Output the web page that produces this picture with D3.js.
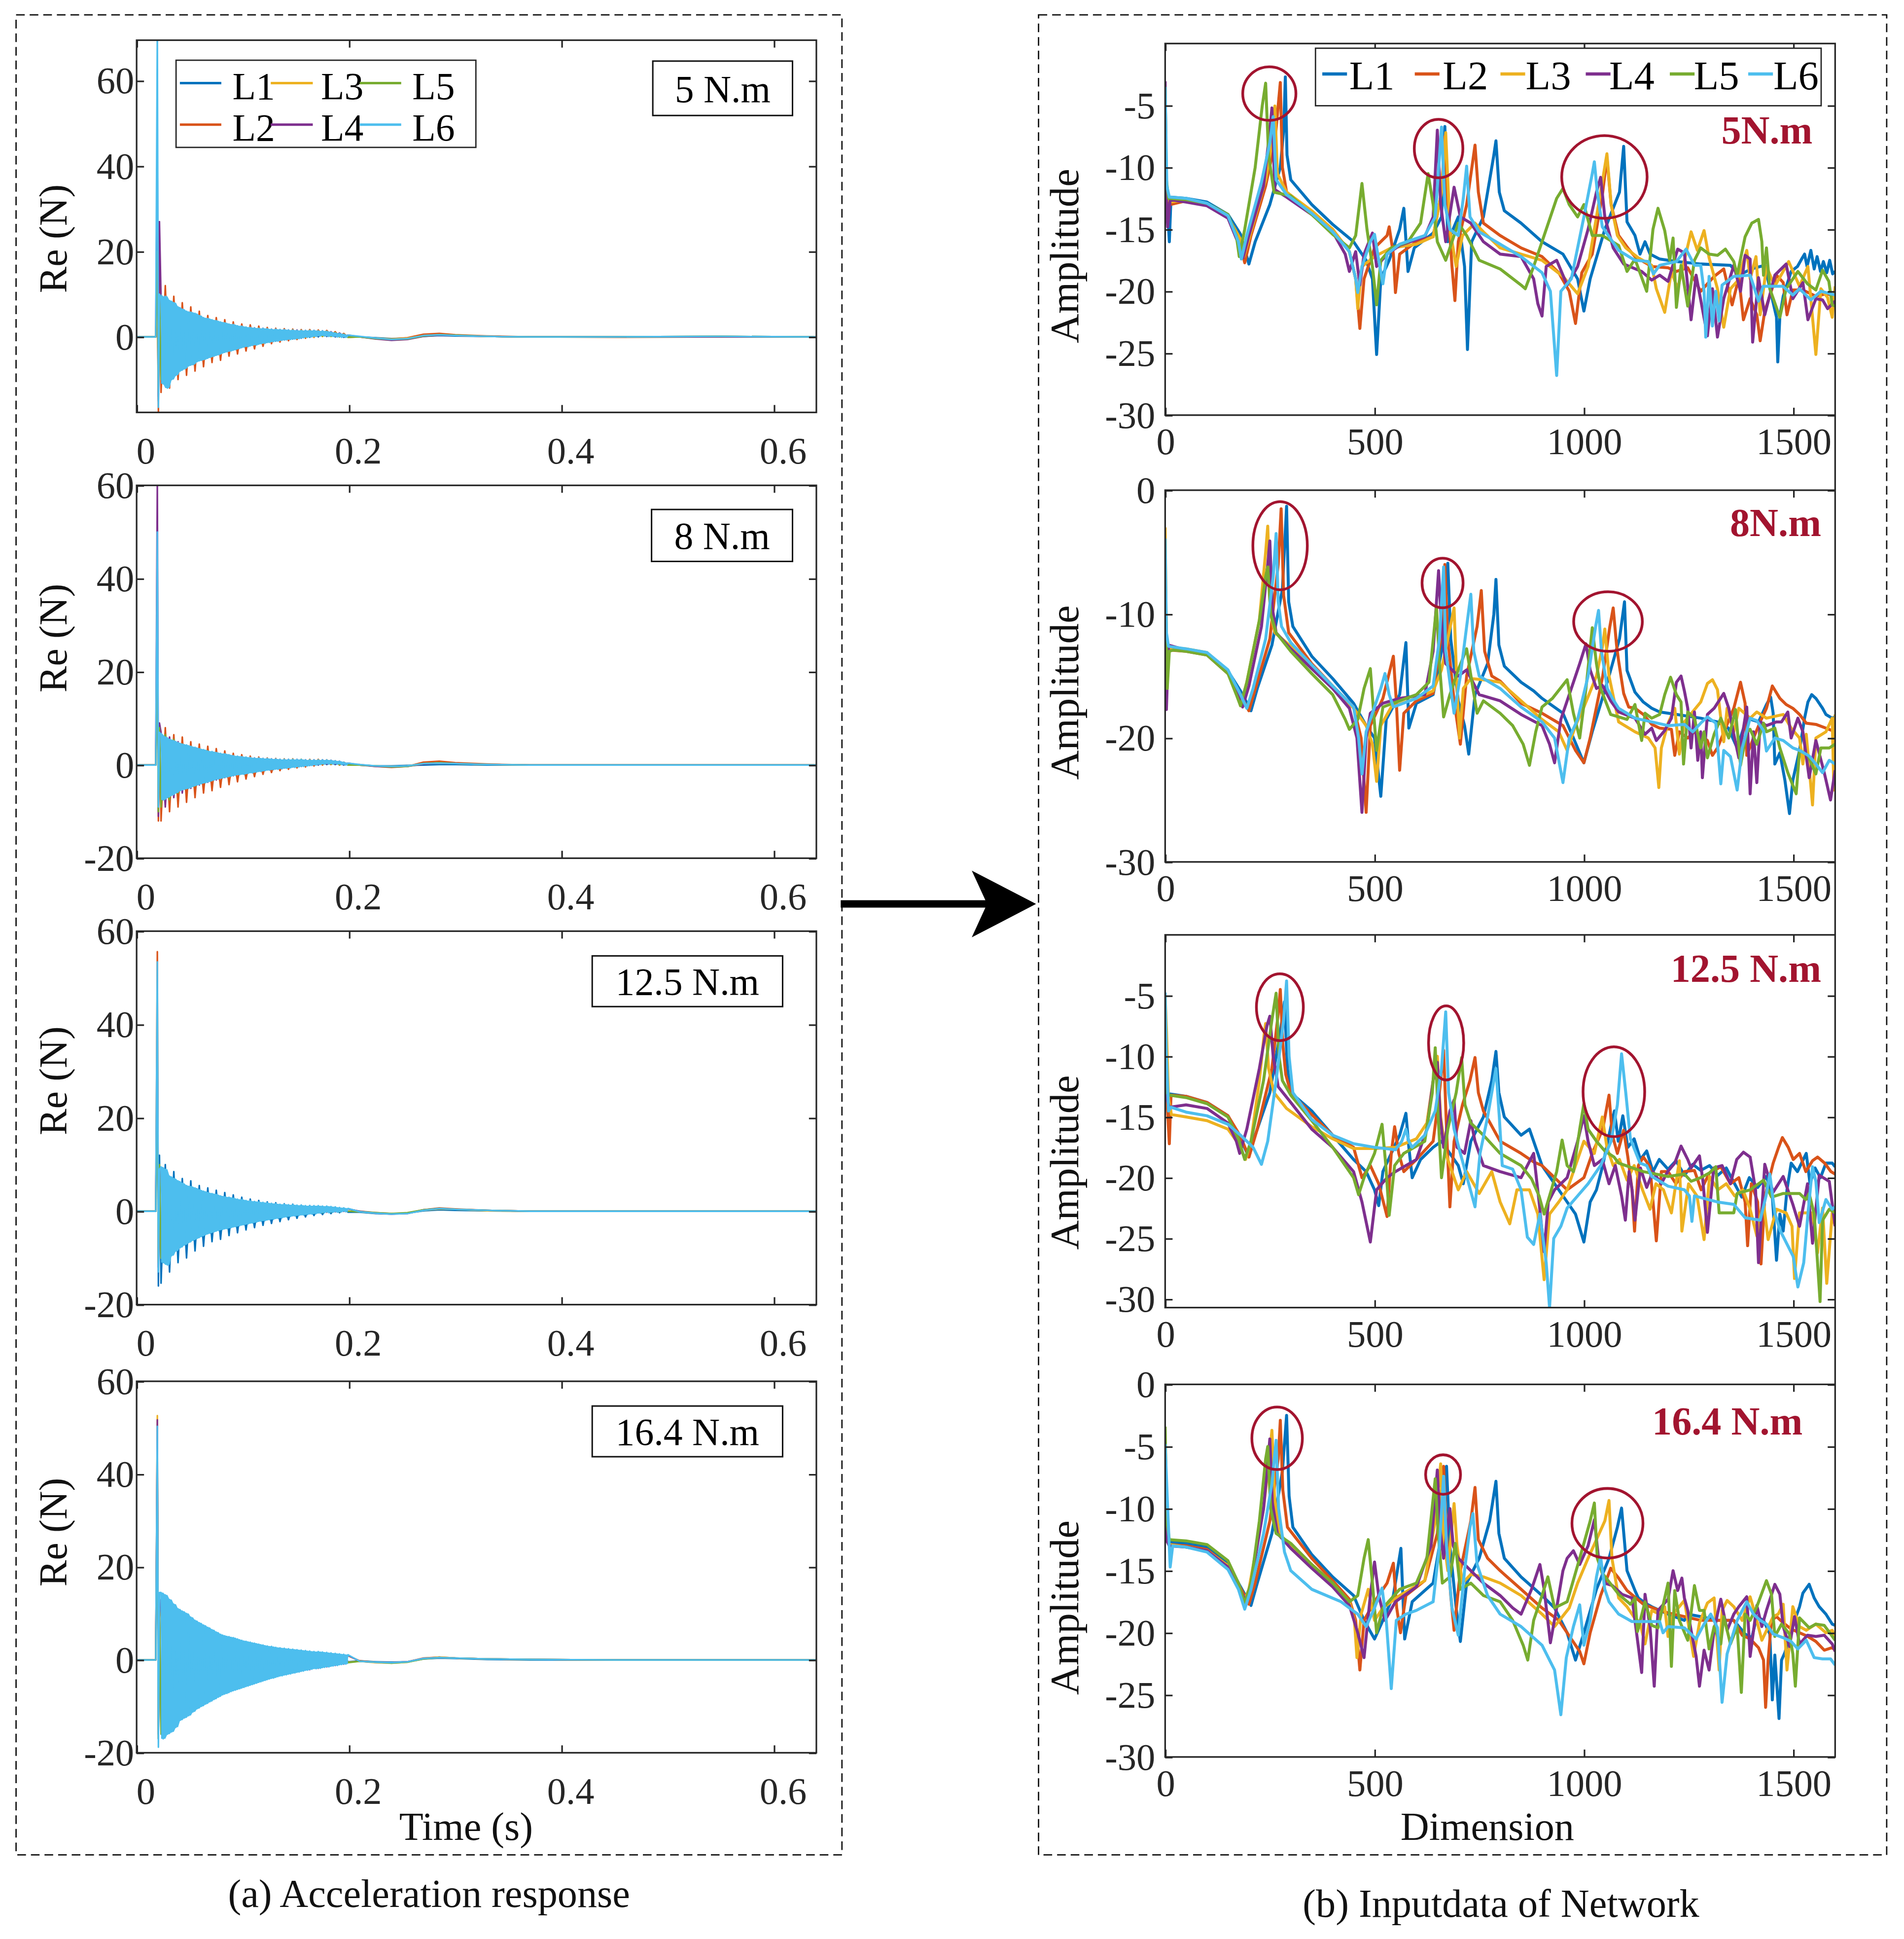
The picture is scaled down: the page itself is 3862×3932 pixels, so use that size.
<!DOCTYPE html>
<html>
<head>
<meta charset="utf-8" />
<title>Acceleration response and network input</title>
<script src="https://d3js.org/d3.v7.min.js"></script>
<style>
  body { margin: 0; background: #fff; }
  svg { display: block; }
</style>
</head>
<body>
<svg id="fig"></svg>
<script>
// ---------- categories, labels, ticks ----------
const seriesNames = ['L1', 'L2', 'L3', 'L4', 'L5', 'L6'];
const seriesColors = ['#0072BD', '#D95319', '#EDB120', '#7E2F8E', '#77AC30', '#4DBEEE'];
const boxLabels = ['5 N.m', '8 N.m', '12.5 N.m', '16.4 N.m'];
const specLabels = ['5N.m', '8N.m', '12.5 N.m', '16.4 N.m'];
const timeDomain = [0, 0.64];
const dimDomain = [0, 1600];
const timeTicks = [0, 0.2, 0.4, 0.6];
const dimTicks = [0, 500, 1000, 1500];
const reDomains = [[-17.7, 69.5], [-20, 60], [-20, 60], [-20, 60]];
const reTicks = [[0, 20, 40, 60], [-20, 0, 20, 40, 60], [-20, 0, 20, 40, 60], [-20, 0, 20, 40, 60]];
const ampDomains = [[-30, 0], [-30, 0], [-30.7, 0], [-30, 0]];
const ampTicks = [[-30, -25, -20, -15, -10, -5], [-30, -20, -10, 0], [-30, -25, -20, -15, -10, -5], [-30, -25, -20, -15, -10, -5, 0]];

// ---------- time response (a): sample times, then peaks/troughs read per line ----------
// L1-L5 are read at these times
const timeGrid = [0, 0.018, 0.0195, 0.0205, 0.0215,
  0.023, 0.027, 0.031, 0.035, 0.039, 0.043, 0.047, 0.051, 0.055, 0.059,
  0.063, 0.067, 0.071, 0.075, 0.079, 0.083, 0.087, 0.091, 0.095, 0.099,
  0.103, 0.107, 0.111, 0.115, 0.119, 0.123, 0.127, 0.131, 0.135, 0.139,
  0.143, 0.147, 0.151, 0.155, 0.159, 0.163, 0.167, 0.171, 0.175, 0.179,
  0.183, 0.187, 0.191, 0.195, 0.199,
  0.21, 0.225, 0.24, 0.255, 0.27, 0.285, 0.3, 0.33, 0.37, 0.45, 0.55, 0.64];
// L6 (drawn on top, it forms the visible band) is read more finely
const fineGrid = [0, 0.018, 0.0195, 0.0205, 0.0215,
  0.023, 0.025, 0.027, 0.029, 0.031, 0.033, 0.035, 0.037, 0.039, 0.041,
  0.043, 0.045, 0.047, 0.049, 0.051, 0.053, 0.055, 0.057, 0.059, 0.061,
  0.063, 0.065, 0.067, 0.069, 0.071, 0.073, 0.075, 0.077, 0.079, 0.081,
  0.083, 0.085, 0.087, 0.089, 0.091, 0.093, 0.095, 0.097, 0.099, 0.101,
  0.103, 0.105, 0.107, 0.109, 0.111, 0.113, 0.115, 0.117, 0.119, 0.121,
  0.123, 0.125, 0.127, 0.129, 0.131, 0.133, 0.135, 0.137, 0.139, 0.141,
  0.143, 0.145, 0.147, 0.149, 0.151, 0.153, 0.155, 0.157, 0.159, 0.161,
  0.163, 0.165, 0.167, 0.169, 0.171, 0.173, 0.175, 0.177, 0.179, 0.181,
  0.183, 0.185, 0.187, 0.189, 0.191, 0.193, 0.195, 0.197, 0.199,
  0.21, 0.225, 0.24, 0.255, 0.27, 0.285, 0.3, 0.33, 0.37, 0.45, 0.55, 0.64];
const bandSpan = [0.023, 0.199];

// 5 N.m
const re5_L1 = [0, 0, 12, -15, 8,
  8, -10, 7, -8, 6, -6.5, 5.5, -5.5, 5, -5,
  4, -4.5, 3.5, -4, 3, -3.4, 2.8, -2.9, 2.4, -2.3,
  2.1, -2, 2, -1.6, 1.8, -1.2, 1.7, -1, 1.6, -0.7,
  1.5, -0.5, 1.4, -0.3, 1.4, -0.1, 1.3, 0, 1.2, 0.1,
  1, 0, 0.7, -0.1, 0.3,
  0, -0.2, -0.4, -0.3, 0.1, 0.3, 0.2, 0.1, 0, 0, 0.1, 0];
const re5_L2 = [0, 0, 14, -17.7, 12.5,
  -13, 12, -12, 9.5, -10, 8, -9, 7, -8, 6,
  -7, 5, -6, 4.5, -5.5, 4, -4.5, 3.5, -4, 3,
  -3.3, 2.8, -2.8, 2.5, -2.2, 2.2, -1.6, 2, -1.2, 1.9,
  -0.9, 1.8, -0.6, 1.7, -0.3, 1.7, -0.1, 1.6, 0.1, 1.5,
  0.2, 1.2, 0, 0.8, -0.1,
  0, -0.4, -0.5, -0.2, 0.6, 0.8, 0.5, 0.2, 0, -0.1, 0, 0];
const re5_L3 = [0, 0, 10, -12, 9,
  -9, 8, -8, 7, -7, 6, -6, 5, -5, 4.5,
  -4.5, 4, -4, 3.5, -3.5, 3, -3, 2.6, -2.5, 2.4,
  -2.1, 2.1, -1.8, 2, -1.5, 1.8, -1.1, 1.7, -0.8, 1.6,
  -0.5, 1.5, -0.3, 1.5, -0.1, 1.5, 0, 1.4, 0.1, 1.3,
  0.1, 1, 0, 0.6, -0.1,
  0, -0.3, -0.5, -0.3, 0.3, 0.5, 0.3, 0.1, 0, 0, 0.1, 0];
const re5_L4 = [0, 0, 45, -14, 27,
  9, -10, 7.5, -8, 6.5, -6.5, 5.5, -5.5, 4.5, -5,
  4, -4.3, 3.5, -3.8, 3, -3.2, 2.6, -2.7, 2.4, -2.2,
  2.2, -1.8, 2.1, -1.4, 2, -1, 1.8, -0.8, 1.7, -0.5,
  1.6, -0.3, 1.6, -0.1, 1.5, 0.1, 1.5, 0.2, 1.4, 0.2,
  1.2, 0.1, 0.9, 0, 0.4,
  0, -0.5, -0.8, -0.6, 0.1, 0.4, 0.3, 0.1, 0, 0, 0, 0];
const re5_L5 = [0, 0, 20, -13, 10,
  -10, 8, -8.5, 7, -7, 6, -6, 5, -5, 4.5,
  -4.5, 4, -4, 3.5, -3.4, 3, -2.9, 2.6, -2.4, 2.3,
  -2, 2.1, -1.7, 2, -1.3, 1.8, -1, 1.7, -0.7, 1.6,
  -0.5, 1.6, -0.3, 1.5, -0.1, 1.5, 0.1, 1.4, 0.2, 1.3,
  0.1, 1, 0, 0.6, -0.1,
  0, -0.4, -0.6, -0.5, 0.2, 0.5, 0.4, 0.1, 0, 0, 0.1, 0];
const re5_L6 = [0, 0, 72, -16.5, 10,
  9, -11, 9.5, -12, 8.5, -10, 8, -9, 7, -8,
  6.5, -7.5, 6, -6.8, 5.8, -6.5, 5.5, -5.8, 5, -5.5,
  4.5, -5.2, 4.3, -4.8, 4, -4.5, 3.8, -4.2, 3.5, -3.8,
  3.3, -3.5, 3, -3.3, 2.9, -3, 2.6, -2.7, 2.5, -2.4,
  2.3, -2.3, 2.2, -2, 2.1, -1.9, 2, -1.6, 2, -1.5,
  1.9, -1.3, 1.8, -1.1, 1.8, -1, 1.7, -0.8, 1.7, -0.7,
  1.6, -0.6, 1.6, -0.5, 1.5, -0.4, 1.5, -0.2, 1.5, -0.1,
  1.5, 0, 1.5, 0.1, 1.4, 0.2, 1.4, 0.2, 1.3, 0.1,
  1.1, 0.1, 0.9, 0, 0.8, -0.1, 0.6, -0.1, 0.4,
  0.1, -0.3, -0.6, -0.4, 0.3, 0.5, 0.3, 0.1, 0, 0, 0.1, 0];

// 8 N.m
const re8_L1 = [0, 0, 30, -10, 6,
  6, -8, 5, -6.5, 4.5, -5.5, 3.8, -4.5, 3.3, -4,
  2.8, -3.4, 2.5, -3, 2.2, -2.6, 1.9, -2.2, 1.7, -1.9,
  1.5, -1.6, 1.4, -1.3, 1.3, -1, 1.2, -0.8, 1.1, -0.6,
  1.1, -0.4, 1, -0.3, 1, -0.1, 1, 0, 0.9, 0.1,
  0.8, 0.1, 0.6, 0, 0.3,
  0, -0.2, -0.2, -0.1, 0, 0.1, 0.1, 0, 0, 0, 0, 0];
const re8_L2 = [0, 0, 25, -12, 8,
  -12, 8, -10, 6.5, -9, 6, -8, 5, -7, 4.5,
  -6, 4, -5.5, 3.5, -4.8, 3, -4.2, 2.5, -3.6, 2.2,
  -3, 1.9, -2.5, 1.7, -2, 1.5, -1.6, 1.4, -1.2, 1.3,
  -0.9, 1.3, -0.6, 1.2, -0.4, 1.2, -0.2, 1.2, 0, 1.1,
  0.1, 0.9, 0, 0.6, 0,
  0.1, -0.3, -0.5, -0.3, 0.6, 0.8, 0.5, 0.2, 0, 0, 0, 0];
const re8_L3 = [0, 0, 35, -9, 7,
  -8, 6, -6.5, 5, -5.5, 4.3, -4.8, 3.8, -4.2, 3.3,
  -3.6, 2.9, -3.1, 2.5, -2.6, 2.2, -2.2, 1.9, -1.9, 1.7,
  -1.6, 1.5, -1.3, 1.4, -1, 1.3, -0.8, 1.2, -0.6, 1.1,
  -0.4, 1.1, -0.2, 1.1, 0, 1, 0.1, 1, 0.2, 0.9,
  0.2, 0.8, 0.1, 0.5, 0,
  0, -0.2, -0.3, -0.2, 0.3, 0.4, 0.3, 0.1, 0, 0, 0, 0];
const re8_L4 = [0, 0, 61, -11, 9,
  7, -9, 6, -7, 5, -6, 4.2, -5, 3.6, -4.3,
  3.1, -3.7, 2.7, -3.2, 2.4, -2.7, 2.1, -2.3, 1.8, -1.9,
  1.6, -1.6, 1.5, -1.3, 1.4, -1, 1.3, -0.8, 1.2, -0.6,
  1.2, -0.4, 1.2, -0.2, 1.1, 0, 1.1, 0.1, 1.1, 0.2,
  1, 0.2, 0.8, 0.1, 0.4,
  0, -0.3, -0.4, -0.3, 0.2, 0.4, 0.3, 0.1, 0, 0, 0, 0];
const re8_L5 = [0, 0, 20, -10, 8,
  -9, 6.5, -7.5, 5.5, -6, 4.5, -5, 4, -4.5, 3.4,
  -3.8, 3, -3.2, 2.6, -2.7, 2.2, -2.3, 1.9, -1.9, 1.7,
  -1.6, 1.5, -1.3, 1.4, -1, 1.3, -0.8, 1.2, -0.6, 1.2,
  -0.4, 1.2, -0.2, 1.2, 0, 1.1, 0.1, 1.1, 0.2, 1,
  0.2, 0.8, 0.1, 0.5, 0,
  0, -0.2, -0.4, -0.3, 0.3, 0.5, 0.3, 0.1, 0, 0, 0, 0];
const re8_L6 = [0, 0, 50, -9, 7,
  6.5, -7.5, 6, -7, 5.5, -6.5, 5.2, -6, 4.8, -5.5,
  4.5, -5.2, 4.3, -5, 4, -4.6, 3.8, -4.3, 3.5, -4,
  3.3, -3.8, 3, -3.5, 2.9, -3.2, 2.7, -3, 2.5, -2.8,
  2.4, -2.6, 2.2, -2.4, 2, -2.2, 1.9, -2.1, 1.8, -2,
  1.7, -1.8, 1.6, -1.7, 1.5, -1.5, 1.5, -1.4, 1.4, -1.2,
  1.4, -1.1, 1.3, -1, 1.3, -0.9, 1.2, -0.8, 1.2, -0.7,
  1.2, -0.6, 1.2, -0.5, 1.2, -0.4, 1.2, -0.3, 1.1, -0.2,
  1.1, -0.1, 1.1, 0, 1.1, 0.1, 1.1, 0.2, 1.1, 0.2,
  1, 0.2, 0.9, 0.2, 0.8, 0.1, 0.6, 0, 0.4,
  0.1, -0.2, -0.3, -0.2, 0.3, 0.4, 0.3, 0.1, 0, 0, 0, 0];

// 12.5 N.m
const re125_L1 = [0, 0, 40, -16, 12,
  -15.4, 10, -13, 8.5, -11, 7, -10, 6.5, -8.5, 5.5,
  -7.5, 5, -6.5, 4.5, -6, 4, -5.2, 3.5, -4.6, 3,
  -4, 2.6, -3.5, 2.3, -3, 2, -2.6, 1.8, -2.2, 1.6,
  -1.8, 1.5, -1.5, 1.3, -1.2, 1.2, -0.9, 1.1, -0.7, 1,
  -0.5, 0.9, -0.3, 0.7, -0.2,
  -0.2, -0.5, -0.6, -0.4, 0.1, 0.3, 0.2, 0.1, 0, 0, 0, 0];
const re125_L2 = [0, 0, 55.6, -10, 8,
  8, -9, 6.5, -8, 5.5, -6.5, 4.8, -5.5, 4.2, -5,
  3.7, -4.3, 3.3, -3.8, 2.9, -3.3, 2.6, -2.9, 2.3, -2.5,
  2, -2.1, 1.8, -1.8, 1.6, -1.5, 1.5, -1.2, 1.4, -1,
  1.3, -0.8, 1.2, -0.6, 1.1, -0.4, 1.1, -0.3, 1, -0.2,
  0.9, -0.1, 0.7, 0, 0.5,
  0, -0.3, -0.5, -0.4, 0.3, 0.7, 0.5, 0.2, 0, 0, 0, 0];
const re125_L3 = [0, 0, 30, -11, 7,
  -10, 7.5, -8.5, 6.5, -7, 5.5, -6, 4.8, -5.2, 4.3,
  -4.6, 3.8, -4, 3.3, -3.5, 2.9, -3.1, 2.6, -2.7, 2.3,
  -2.3, 2, -2, 1.8, -1.7, 1.6, -1.4, 1.5, -1.1, 1.4,
  -0.9, 1.3, -0.7, 1.2, -0.5, 1.1, -0.3, 1.1, -0.2, 1,
  -0.1, 0.8, 0, 0.6, 0,
  -0.1, -0.4, -0.5, -0.4, 0.2, 0.5, 0.4, 0.1, 0, 0, 0, 0];
const re125_L4 = [0, 0, 35, -12, 9,
  7.5, -10, 6.5, -8.5, 5.5, -7, 5, -6, 4.3, -5.2,
  3.8, -4.6, 3.4, -4, 3, -3.5, 2.7, -3.1, 2.4, -2.7,
  2.1, -2.3, 1.9, -2, 1.7, -1.7, 1.5, -1.4, 1.4, -1.1,
  1.3, -0.9, 1.2, -0.7, 1.1, -0.5, 1.1, -0.3, 1, -0.2,
  0.9, -0.1, 0.7, 0, 0.5,
  0, -0.4, -0.6, -0.5, 0.3, 0.6, 0.4, 0.2, 0, 0, 0, 0];
const re125_L5 = [0, 0, 25, -11, 10,
  -10, 8, -8.5, 6.5, -7, 5.5, -6.2, 5, -5.4, 4.4,
  -4.8, 3.9, -4.2, 3.4, -3.6, 3, -3.2, 2.6, -2.8, 2.3,
  -2.4, 2, -2.1, 1.8, -1.8, 1.6, -1.5, 1.5, -1.2, 1.4,
  -1, 1.3, -0.8, 1.2, -0.6, 1.1, -0.4, 1.1, -0.3, 1,
  -0.2, 0.8, -0.1, 0.6, 0,
  -0.1, -0.3, -0.5, -0.3, 0.3, 0.6, 0.4, 0.2, 0, 0, 0, 0];
const re125_L6 = [0, 0, 53.4, -13, 9,
  9.5, -11, 9, -11.5, 7.5, -9.5, 7, -8.5, 6.5, -7.8,
  6, -7.2, 5.5, -6.7, 5.3, -6.2, 5, -5.8, 4.6, -5.4,
  4.3, -5, 4, -4.7, 3.8, -4.4, 3.6, -4.1, 3.3, -3.9,
  3.1, -3.7, 3, -3.5, 2.8, -3.3, 2.6, -3.1, 2.5, -2.9,
  2.3, -2.7, 2.2, -2.5, 2.1, -2.3, 2, -2.1, 1.9, -2,
  1.8, -1.8, 1.7, -1.7, 1.6, -1.5, 1.5, -1.4, 1.5, -1.2,
  1.4, -1.1, 1.4, -1, 1.3, -0.9, 1.3, -0.8, 1.2, -0.7,
  1.2, -0.6, 1.2, -0.5, 1.2, -0.4, 1.1, -0.3, 1.1, -0.3,
  1, -0.2, 0.9, -0.2, 0.8, -0.1, 0.7, -0.1, 0.6,
  -0.1, -0.4, -0.6, -0.5, 0.2, 0.6, 0.4, 0.2, 0, 0, 0, 0];

// 16.4 N.m
const re164_L1 = [0, 0, 45, -14, 11,
  -14, 12, -13, 10, -11, 8.5, -10, 7.5, -9, 6.5,
  -8, 5.5, -7, 5, -6.2, 4.4, -5.5, 4, -5, 3.5,
  -4.5, 3.2, -4, 2.8, -3.5, 2.5, -3.1, 2.3, -2.7, 2.1,
  -2.4, 1.9, -2, 1.7, -1.7, 1.6, -1.4, 1.4, -1.1, 1.3,
  -0.9, 1.1, -0.7, 0.9, -0.4,
  -0.2, -0.4, -0.5, -0.4, 0.2, 0.4, 0.3, 0.1, 0, 0, 0, 0];
const re164_L2 = [0, 0, 48, -17, 9,
  12, -15, 11, -13, 9.5, -11, 8.5, -10, 7.5, -9,
  6.5, -8, 5.8, -7.2, 5, -6.5, 4.5, -5.8, 4, -5.2,
  3.6, -4.7, 3.2, -4.2, 2.9, -3.7, 2.6, -3.3, 2.4, -2.9,
  2.2, -2.6, 2, -2.3, 1.8, -2, 1.6, -1.7, 1.5, -1.4,
  1.3, -1.1, 1.1, -0.8, 0.9,
  -0.2, -0.5, -0.6, -0.4, 0.4, 0.6, 0.4, 0.2, 0.1, 0, 0, 0];
const re164_L3 = [0, 0, 52.6, -15, 12,
  -15, 12, -13, 10.5, -11.5, 9, -10, 8, -9, 7,
  -8, 6, -7, 5.2, -6.4, 4.6, -5.7, 4.1, -5, 3.6,
  -4.5, 3.3, -4, 2.9, -3.6, 2.6, -3.2, 2.4, -2.8, 2.2,
  -2.4, 2, -2.1, 1.8, -1.8, 1.6, -1.5, 1.5, -1.2, 1.3,
  -1, 1.1, -0.7, 0.9, -0.5,
  -0.3, -0.6, -0.7, -0.5, 0.3, 0.6, 0.4, 0.2, 0.1, 0, 0, 0];
const re164_L4 = [0, 0, 51.7, -16, 10,
  13, -15, 11.5, -13.5, 10, -12, 9, -10.5, 8, -9.5,
  7, -8.5, 6, -7.7, 5.3, -6.9, 4.7, -6.2, 4.2, -5.6,
  3.8, -5, 3.4, -4.5, 3, -4, 2.7, -3.5, 2.5, -3.1,
  2.3, -2.8, 2.1, -2.4, 1.9, -2.1, 1.7, -1.8, 1.6, -1.5,
  1.4, -1.2, 1.2, -0.9, 1,
  -0.3, -0.5, -0.6, -0.4, 0.3, 0.5, 0.4, 0.2, 0.1, 0, 0, 0];
const re164_L5 = [0, 0, 40, -17, 11,
  -16, 13, -14, 11, -12, 9.5, -10.5, 8.5, -9.5, 7.5,
  -8.5, 6.5, -7.5, 5.7, -6.8, 5, -6, 4.5, -5.4, 4,
  -4.8, 3.6, -4.3, 3.2, -3.8, 2.9, -3.4, 2.6, -3, 2.4,
  -2.6, 2.2, -2.3, 2, -2, 1.8, -1.7, 1.6, -1.4, 1.5,
  -1.1, 1.3, -0.9, 1.1, -0.6,
  -0.3, -0.5, -0.7, -0.5, 0.2, 0.5, 0.4, 0.2, 0.1, 0, 0, 0];
const re164_L6 = [0, 0, 50.3, -18.8, 14.5,
  14.5, -17, 14, -16, 13, -15.5, 12, -14.5, 11, -13,
  10.5, -12.5, 10, -12, 9.2, -11.2, 8.5, -10.5, 8, -10,
  7.5, -9.5, 7, -9, 6.5, -8.5, 6, -8, 5.5, -7.5,
  5.2, -7.2, 5, -6.8, 4.8, -6.5, 4.5, -6.2, 4.2, -5.9,
  4, -5.6, 3.8, -5.3, 3.6, -5, 3.4, -4.7, 3.2, -4.4,
  3, -4.1, 2.9, -3.9, 2.7, -3.6, 2.6, -3.4, 2.5, -3.2,
  2.4, -3, 2.3, -2.8, 2.2, -2.6, 2.1, -2.4, 2, -2.2,
  1.9, -2, 1.8, -1.9, 1.8, -1.8, 1.7, -1.6, 1.6, -1.5,
  1.5, -1.3, 1.4, -1.2, 1.3, -1, 1.2, -0.9, 1.1,
  -0.3, -0.5, -0.6, -0.4, 0.3, 0.5, 0.4, 0.2, 0.1, 0, 0, 0];

// ---------- network input (b): [dimension, amplitude] vertices read per line ----------
// 5 N.m
const amp5_L1 = [[0,-9],[4,-12.2],[10,-16],[14,-12.4],[50,-12.5],[100,-12.8],[150,-13.8],[180,-15.4],[200,-17.8],[215,-16],[250,-13],[275,-10],[283,-7],[287,-2.7],[291,-9],[300,-11],[350,-13],[400,-14.6],[450,-16],[480,-17.5],[495,-19],[505,-25.1],[515,-19],[535,-17.5],[560,-15],[570,-13.3],[580,-18.4],[595,-16.5],[640,-15.3],[660,-14],[668,-6.7],[675,-16],[700,-14],[715,-18],[722,-24.7],[732,-16],[760,-14],[785,-9],[790,-7.85],[798,-12],[810,-13.5],[850,-14.5],[900,-16],[950,-17],[985,-19],[1000,-21.6],[1015,-19],[1050,-15],[1085,-12],[1095,-8.3],
  [1103,-14.4],[1122,-15.5],[1134,-17],[1146,-16],[1158,-17],[1181,-17.4],[1221,-17.6],[1279,-17.8],[1350,-17.9],[1370,-18.7],[1400,-18.2],[1432,-17.9],[1444,-19.75],[1460,-22.1],[1463,-25.7],[1468,-22],[1476,-20.4],[1495,-18.4],[1510,-18],[1520,-17.4],[1527,-17],[1533,-18],[1542,-16.7],[1550,-18.2],[1557,-17.2],[1565,-18.4],[1572,-17.6],[1580,-18.5],[1587,-17.5],[1594,-18.6],[1600,-18.4]];
const amp5_L2 = [[0,-10],[4,-12.5],[12,-13],[50,-12.7],[100,-13],[150,-14],[175,-15.5],[190,-17.7],[205,-15.5],[240,-11.5],[262,-8],[270,-5],[275,-3.15],[280,-10],[290,-12],[350,-13.6],[400,-15],[440,-16.8],[455,-19],[465,-23],[475,-19],[500,-16.5],[530,-15.5],[535,-14.8],[545,-17],[550,-20.1],[560,-17],[600,-16],[640,-15.6],[660,-12],[668,-7.5],[675,-13],[685,-18],[692,-20.75],[700,-16],[720,-13],[740,-8.2],[748,-12],[760,-14.5],[800,-15.5],[850,-16.5],[900,-17.2],[940,-18.5],[965,-20],[980,-22.6],[995,-18.5],[1020,-17],[1045,-12],[1055,-9.2],
  [1065,-13],[1083,-15.5],[1107,-16.6],[1122,-17.2],[1162,-18],[1201,-18.1],[1221,-18.4],[1248,-18.1],[1279,-20],[1311,-18.8],[1334,-18.2],[1354,-21.1],[1370,-18.9],[1381,-22.3],[1397,-20.6],[1413,-21.9],[1421,-24],[1432,-21.6],[1460,-18.7],[1476,-19.3],[1485,-21.9],[1499,-19.9],[1523,-19.9],[1554,-20.4],[1580,-20.2],[1600,-20.4]];
const amp5_L3 = [[0,-8.5],[4,-12.4],[12,-12.8],[50,-12.6],[100,-13],[150,-14],[180,-15.8],[188,-17.2],[200,-15.8],[240,-11],[255,-8],[262,-5.05],[268,-10.5],[290,-12],[350,-13.5],[400,-15],[440,-16.8],[455,-19],[460,-21.4],[470,-18],[500,-17.2],[540,-16.5],[600,-16.2],[640,-15.6],[660,-12],[670,-7.2],[680,-15],[695,-18],[710,-15.5],[740,-14.5],[760,-15.2],[800,-16.5],[850,-17],[900,-17.5],[950,-18.8],[985,-20.2],[1010,-18],[1040,-12],[1055,-8.9],
  [1065,-13],[1080,-15.5],[1100,-16.5],[1130,-17.3],[1162,-17.9],[1173,-19.8],[1193,-21.7],[1209,-18.4],[1224,-19.8],[1256,-15.2],[1271,-16.7],[1287,-15.1],[1299,-17.3],[1319,-19.8],[1334,-22.9],[1350,-19.8],[1366,-19.2],[1389,-16.7],[1397,-19],[1411,-17.2],[1421,-21.9],[1436,-18],[1456,-19.6],[1489,-17.6],[1515,-19.6],[1535,-18],[1554,-25.1],[1566,-19.8],[1582,-20.5],[1593,-22.1],[1600,-19.6]];
const amp5_L4 = [[0,-3.05],[3,-12.5],[6,-14.8],[12,-12.6],[50,-12.8],[100,-13.1],[150,-14.1],[178,-16.4],[186,-17.3],[200,-15.5],[235,-11.5],[250,-7],[255,-5.2],[262,-11.8],[290,-12.4],[350,-13.8],[400,-15.2],[430,-17],[440,-18.4],[455,-16.8],[465,-19.5],[475,-17],[495,-15.3],[505,-18],[530,-17],[560,-16.3],[620,-15.6],[640,-14],[650,-7],[658,-13],[670,-16],[690,-11.6],[705,-14],[730,-14.5],[760,-16],[800,-17],[850,-17.2],[880,-19],[890,-21],[900,-22],[910,-18],[935,-17.5],[960,-19.5],[985,-18],[1010,-15],[1030,-12],[1040,-10.8],
  [1050,-14],[1070,-16.5],[1095,-17.8],[1138,-18.4],[1162,-19.1],[1181,-18.7],[1201,-19.2],[1224,-16.6],[1240,-16.9],[1256,-22.3],[1268,-18.7],[1279,-20.7],[1295,-23.6],[1307,-19.8],[1319,-23.7],[1334,-20.6],[1358,-17.9],[1374,-20],[1385,-17.1],[1397,-17.4],[1403,-24.1],[1417,-18.9],[1432,-21.9],[1456,-18.7],[1483,-17.8],[1499,-20.6],[1523,-19.3],[1535,-22.3],[1554,-20.6],[1570,-20.7],[1582,-21.4],[1600,-20.8]];
const amp5_L5 = [[0,-3.5],[3,-11],[8,-12.5],[50,-12.6],[100,-12.9],[150,-13.8],[170,-15.5],[177,-17.2],[190,-15],[215,-10],[232,-5],[240,-3.2],[247,-9],[260,-12],[300,-12.3],[350,-13.8],[400,-15.4],[440,-16.5],[455,-15.5],[470,-11.3],[482,-15],[495,-18],[505,-21.1],[515,-17.5],[540,-16.5],[580,-16],[610,-14.5],[628,-10.5],[640,-13],[650,-16],[670,-17.5],[700,-14.5],[720,-15.5],[750,-17.5],[800,-18.2],[850,-19.5],[860,-19.8],[880,-18],[900,-16],[935,-12.5],[950,-11.7],[965,-13],[985,-14],[1000,-13],[1020,-15.5],
  [1044,-15.5],[1083,-16.3],[1103,-18.4],[1122,-17.4],[1150,-20],[1165,-15],[1177,-13.3],[1193,-15.1],[1205,-17.5],[1213,-15.7],[1221,-21.3],[1232,-17.9],[1248,-21.2],[1264,-17.5],[1279,-16.5],[1299,-17],[1319,-17.1],[1338,-16.6],[1358,-17.6],[1366,-18.7],[1385,-15.6],[1401,-14.5],[1417,-14.2],[1425,-16],[1429,-18.7],[1436,-16.5],[1444,-19.8],[1468,-22.1],[1483,-19.8],[1511,-18.4],[1534,-19.4],[1554,-19.9],[1570,-18.3],[1585,-19.2],[1593,-21.1],[1600,-21.2]];
const amp5_L6 = [[0,-3.5],[4,-11.5],[10,-12.4],[50,-12.5],[100,-12.9],[150,-13.9],[175,-16],[182,-17.4],[195,-15.5],[230,-11.2],[250,-8],[258,-5.9],[265,-11],[290,-12.2],[350,-13.7],[400,-15.2],[440,-16.8],[455,-19],[460,-20.1],[470,-18],[490,-16],[500,-15.4],[510,-17.5],[520,-19.4],[530,-17],[560,-16.2],[620,-15.5],[645,-14],[660,-6.75],[668,-13],[680,-15],[700,-15.5],[712,-12.5],[720,-9.9],[728,-14],[750,-15.2],[800,-16.2],[850,-17.2],[900,-18.5],[920,-20],[935,-26.8],[945,-20],[970,-19],[1000,-14],[1020,-10.5],[1025,-9.55],[1032,-12],
  [1044,-14.8],[1083,-16.7],[1122,-17.5],[1154,-17.6],[1166,-18.6],[1181,-17.9],[1221,-17.6],[1244,-16.6],[1264,-17.9],[1279,-17.9],[1287,-20],[1291,-23.7],[1299,-18.8],[1307,-22.8],[1315,-20],[1323,-22.4],[1330,-19.5],[1358,-18.8],[1397,-18.7],[1417,-20.8],[1428,-19.6],[1475,-19.6],[1499,-20.3],[1515,-19.8],[1542,-20.7],[1566,-20],[1600,-20.3]];

// 8 N.m
const amp8_L1 = [[0,-6],[3,-12.5],[10,-12.8],[50,-12.9],[100,-13.2],[150,-14.6],[180,-16.2],[205,-17.8],[220,-16],[255,-12.5],[280,-8],[290,-1.3],[295,-9],[305,-11],[350,-13.4],[400,-15.2],[450,-17.2],[480,-19],[500,-20],[515,-24.7],[528,-18.5],[560,-16.5],[575,-12.3],[582,-19.2],[600,-17.2],[640,-16.5],[660,-13],[675,-5.9],[682,-12],[700,-17],[715,-19],[725,-21.3],[740,-16.5],[770,-14],[785,-10],[790,-7.2],[797,-12.5],[810,-14.2],[850,-15.5],[880,-16.2],[900,-16.8],[950,-18],[975,-20],[1000,-22],[1020,-19.5],[1060,-15],[1085,-12],[1097,-9],
  [1103,-14.55],[1122,-16.3],[1142,-17.1],[1162,-17.6],[1181,-17.9],[1221,-18.1],[1279,-18.4],[1319,-18.7],[1345,-19.2],[1366,-20.8],[1389,-18.4],[1417,-18.7],[1436,-17.3],[1446,-16.7],[1452,-18],[1456,-22.1],[1468,-21.2],[1480,-23.4],[1491,-26.1],[1499,-23.4],[1515,-21],[1527,-18.4],[1535,-17.1],[1544,-16.5],[1554,-16.8],[1570,-17.6],[1578,-18.1],[1593,-18.4],[1600,-18.3]];
const amp8_L2 = [[0,-7],[3,-12.6],[12,-12.9],[50,-13],[100,-13.3],[150,-14.8],[180,-16.5],[200,-17.8],[220,-15.5],[250,-12],[270,-6],[277,-1.5],[283,-8.5],[295,-11.5],[350,-14],[400,-15.8],[450,-17.5],[468,-20],[480,-26],[490,-19],[520,-16.8],[545,-13.4],[552,-17],[560,-22.6],[570,-18],[600,-17],[640,-16.4],[658,-12],[668,-6],[675,-12],[690,-17],[705,-20.5],[720,-15],[745,-11],[755,-8.1],[763,-13],[780,-15],[800,-15.4],[850,-17.2],[900,-18],[950,-19],[980,-21],[1000,-22],[1015,-20],[1045,-15],[1062,-11],[1070,-9.5],
  [1078,-12.5],[1083,-13.8],[1095,-16.4],[1107,-17.5],[1122,-17.6],[1142,-18.1],[1162,-18.9],[1181,-19.2],[1209,-19.3],[1217,-21.4],[1228,-19.5],[1248,-20],[1264,-19.5],[1295,-20.2],[1307,-21.4],[1319,-20.8],[1342,-18.9],[1358,-17.6],[1374,-15.5],[1385,-17.2],[1389,-21.4],[1405,-20],[1421,-18.7],[1436,-17.6],[1450,-15.8],[1468,-16.8],[1483,-17.3],[1499,-17.6],[1515,-18.1],[1531,-18.8],[1554,-18.9],[1578,-19.2],[1600,-19.5]];
const amp8_L3 = [[0,-3],[3,-12.2],[10,-12.7],[50,-12.8],[100,-13.1],[150,-14.6],[170,-16.2],[180,-17.4],[195,-15.5],[225,-10.5],[240,-5],[245,-2.9],[252,-10],[262,-11.5],[300,-12.6],[350,-14.3],[400,-15.8],[450,-17.6],[480,-19],[495,-20.5],[505,-23.5],[515,-19],[540,-17.5],[600,-16.8],[640,-16.2],[660,-14.5],[675,-12],[690,-9.5],[697,-16],[703,-20],[712,-16],[730,-15.2],[760,-15.3],[800,-15.5],[850,-17],[900,-18.5],[940,-19.5],[960,-21],[980,-19],[1000,-17.5],[1030,-15],[1045,-12.5],[1050,-11.2],
  [1060,-15],[1083,-18.7],[1122,-19.5],[1154,-20],[1170,-20.8],[1179,-24],[1185,-20.8],[1201,-18.8],[1217,-17.6],[1228,-21.3],[1240,-18.7],[1279,-17.1],[1295,-15.6],[1307,-15.3],[1319,-16.1],[1327,-18.4],[1334,-20.3],[1342,-17.6],[1358,-19.5],[1370,-17.6],[1397,-18.4],[1413,-17.9],[1436,-18.4],[1476,-18.1],[1495,-19.2],[1515,-20],[1523,-22.1],[1531,-19.7],[1546,-25.4],[1554,-20],[1578,-19.5],[1593,-18.4],[1597,-24.2],[1600,-18.1]];
const amp8_L4 = [[0,-12],[3,-17.7],[8,-12.5],[50,-12.9],[100,-13.2],[150,-14.6],[172,-16.3],[185,-17.5],[200,-15.8],[230,-11],[245,-6],[250,-4.1],[256,-9.5],[265,-11.5],[300,-12.8],[350,-14.4],[400,-16],[440,-17.6],[458,-20],[470,-26],[480,-20],[490,-18],[520,-17.2],[560,-16.8],[620,-16.5],[640,-13],[653,-6.5],[660,-11],[670,-14],[700,-15],[720,-14.5],[750,-16.5],[800,-17],[850,-18.1],[900,-19],[918,-20.5],[930,-22],[945,-18.5],[960,-17],[990,-14],[1005,-12.4],[1015,-14.5],[1030,-16],
  [1044,-15.75],[1064,-17],[1083,-17.9],[1122,-18.4],[1146,-19.7],[1162,-19.2],[1173,-20.2],[1193,-19.4],[1209,-18.4],[1221,-15.5],[1232,-15],[1240,-16.2],[1248,-17.6],[1256,-20.8],[1264,-17.9],[1272,-21.8],[1279,-19.5],[1283,-23.2],[1295,-18.1],[1311,-17.6],[1334,-16.4],[1346,-17.6],[1358,-19.7],[1370,-21.6],[1389,-17.5],[1397,-24.5],[1405,-19.5],[1413,-23.6],[1421,-18.7],[1436,-19],[1460,-18.7],[1472,-18.7],[1487,-17.9],[1495,-20],[1511,-18.4],[1523,-19.5],[1538,-23.2],[1554,-20.2],[1574,-22.8],[1589,-25],[1600,-22.6]];
const amp8_L5 = [[0,-6],[5,-16],[10,-13],[20,-12.9],[50,-13],[100,-13.3],[150,-14.8],[170,-16.5],[180,-17.4],[195,-15.5],[225,-10.5],[240,-7],[245,-6.2],[252,-10],[265,-11.5],[300,-13],[350,-14.8],[400,-16.5],[430,-18.5],[440,-19.3],[460,-18.5],[475,-16],[490,-14.4],[498,-18],[505,-21],[520,-17.5],[560,-17],[600,-16.5],[630,-15.5],[648,-9.4],[655,-14],[665,-18.3],[680,-16.5],[700,-14.5],[720,-12.8],[735,-16],[745,-18],[760,-17],[800,-18],[830,-19],[855,-20.5],[870,-22.2],[885,-19.5],[900,-17.5],[925,-16.8],[960,-15.3],[975,-18],[990,-20],[1005,-16],[1020,-11.1],[1030,-14],[1040,-16],
  [1064,-18.1],[1103,-18.5],[1122,-17.3],[1138,-20.2],[1146,-18],[1162,-18.4],[1181,-18.1],[1193,-16.5],[1207,-15.1],[1221,-16.5],[1232,-17.1],[1238,-22.1],[1248,-17.9],[1264,-18.4],[1279,-20.8],[1287,-19.5],[1295,-21.6],[1311,-19.7],[1327,-18.4],[1346,-20],[1362,-17.7],[1374,-22.2],[1389,-19.5],[1397,-19.3],[1413,-20.5],[1429,-18.8],[1436,-19.5],[1456,-19.2],[1468,-20.8],[1487,-22.8],[1507,-24.5],[1515,-21],[1535,-21.4],[1554,-22.9],[1566,-20.8],[1586,-20.8],[1600,-20.5]];
const amp8_L6 = [[0,-3.9],[3,-11.5],[8,-12.6],[50,-12.8],[100,-13.1],[150,-14.5],[180,-16.5],[195,-17.6],[210,-16],[240,-12],[258,-7],[265,-3.5],[270,-9],[278,-11],[300,-12.3],[350,-14.1],[400,-15.8],[450,-17.5],[462,-20],[470,-22.9],[480,-19.5],[495,-18],[515,-16],[525,-14.8],[535,-16.5],[545,-17.5],[600,-16.8],[640,-15.8],[655,-12],[665,-6.2],[670,-13],[690,-18],[705,-15],[720,-11],[730,-8.4],[737,-13],[750,-15],[800,-16],[850,-17.5],[900,-18.7],[930,-20],[950,-23.6],[965,-20],[985,-18.5],[1010,-15],[1028,-11],[1035,-9.7],
  [1042,-13],[1056,-16],[1068,-16.8],[1083,-17.6],[1122,-18.4],[1162,-18.7],[1201,-19],[1240,-18.9],[1260,-19.5],[1279,-18.8],[1295,-18.3],[1315,-18.8],[1327,-23.7],[1334,-21],[1350,-21.5],[1366,-24.2],[1378,-20.8],[1397,-18.4],[1413,-18.6],[1429,-19.4],[1436,-21.05],[1456,-20],[1476,-20.2],[1499,-20.8],[1515,-21],[1538,-21.45],[1554,-22.1],[1570,-22.8],[1586,-21.8],[1600,-22.1]];

// 12.5 N.m
const amp125_L1 = [[0,-8],[4,-13.5],[10,-13.1],[50,-13.3],[100,-13.8],[150,-14.9],[180,-16.8],[200,-18.3],[215,-16.5],[250,-13],[275,-8],[285,-5.5],[292,-11],[300,-13],[350,-14.5],[400,-16.5],[450,-18.5],[480,-19.5],[500,-21],[510,-22.3],[520,-19.5],[540,-18],[560,-16.5],[575,-14.7],[582,-17.5],[590,-20],[610,-18.5],[640,-17.5],[660,-17],[680,-18],[700,-19],[712,-20.5],[730,-17],[760,-15],[780,-12],[790,-9.6],[797,-13],[810,-15],[850,-16.5],[870,-16],[900,-19],[930,-20.5],[960,-22],[980,-23],[1000,-25.3],[1015,-22],[1030,-21],[1045,-19],
  [1060,-16.5],[1073,-14.5],[1082,-17],[1093,-14.9],[1105,-17.5],[1120,-16.8],[1135,-18.5],[1150,-17.8],[1165,-19.5],[1180,-18.5],[1201,-19.3],[1220,-18.6],[1240,-19.8],[1260,-18.9],[1279,-19.4],[1300,-19],[1320,-19.8],[1340,-19.2],[1360,-20.5],[1377,-21.6],[1395,-20],[1415,-20.8],[1436,-19.9],[1450,-21.5],[1460,-26.8],[1468,-23],[1476,-24.4],[1485,-21],[1495,-18.8],[1510,-19.5],[1531,-18],[1540,-20.5],[1552,-19.2],[1565,-20],[1578,-18.8],[1593,-18.8],[1600,-19.1]];
const amp125_L2 = [[0,-9],[5,-14],[10,-17.2],[14,-13.2],[50,-13.3],[100,-13.8],[150,-14.9],[180,-16.6],[200,-18.3],[220,-16],[255,-11],[270,-6.5],[275,-4.5],[281,-9],[288,-11.5],[300,-13],[350,-14.8],[400,-16.5],[450,-17.5],[470,-20],[490,-19],[510,-20.5],[530,-23.2],[540,-18],[548,-15.8],[558,-18],[570,-19.5],[600,-18.5],[640,-17],[655,-13],[665,-9.5],[672,-16],[680,-22.4],[690,-17],[710,-14],[728,-12],[740,-10.1],[748,-13],[760,-14.5],[800,-17],[850,-18],[880,-18.7],[900,-19],[930,-20],[960,-21],[980,-20.5],[1000,-20],[1020,-18],[1045,-16],[1060,-13.2],
  [1068,-16.5],[1080,-18],[1095,-16.1],[1105,-18.3],[1115,-21],[1121,-24.4],[1130,-19],[1142,-18.3],[1158,-19.1],[1173,-25.2],[1185,-19.5],[1201,-19.5],[1220,-20.5],[1240,-19.5],[1264,-19.4],[1280,-21],[1300,-19.6],[1327,-19.1],[1350,-20.5],[1370,-20],[1385,-22],[1391,-25.6],[1400,-20.5],[1415,-22],[1423,-27.1],[1432,-21.6],[1452,-18.8],[1465,-17.5],[1474,-16.7],[1488,-17.5],[1500,-18.5],[1515,-18],[1530,-19.5],[1546,-18.6],[1558,-18.3],[1575,-18.8],[1590,-19.5],[1600,-19.7]];
const amp125_L3 = [[0,-5],[3,-7.7],[8,-13.5],[15,-14.8],[50,-15],[100,-15.3],[150,-16],[175,-17.2],[192,-18.5],[205,-17],[225,-12],[237,-8],[240,-7.3],[247,-11],[260,-13],[290,-14.3],[350,-15.8],[400,-16.8],[450,-17.6],[500,-17.6],[550,-17.5],[600,-16.8],[625,-15.5],[640,-12],[650,-10],[658,-15],[670,-18],[690,-20],[700,-21],[720,-19.5],[750,-21.3],[780,-19.5],[800,-22],[823,-23.8],[840,-21],[870,-21],[890,-23],[905,-28.4],[918,-23],[940,-22],[960,-21],[980,-19],[1000,-17],
  [1025,-18],[1044,-15],[1055,-17.5],[1070,-19],[1085,-18.5],[1103,-20.2],[1120,-19],[1140,-21],[1158,-22.6],[1172,-20.5],[1190,-21],[1209,-22.9],[1228,-18.6],[1234,-24.4],[1250,-20.5],[1270,-21.5],[1287,-25.1],[1300,-19.9],[1320,-21],[1340,-20.5],[1360,-21.5],[1380,-21],[1397,-22.6],[1413,-24.8],[1428,-21.8],[1440,-25.1],[1460,-22.6],[1483,-22.9],[1497,-24],[1503,-28.3],[1515,-22.9],[1546,-22.9],[1558,-26.2],[1570,-22.5],[1580,-28.7],[1593,-22.9],[1600,-24]];
const amp125_L4 = [[0,-9],[4,-13.5],[10,-14.2],[50,-14],[100,-14.3],[150,-15.5],[170,-17],[178,-18],[195,-16],[225,-11],[243,-7.5],[250,-6.7],[258,-10],[270,-12.5],[300,-13.8],[350,-16],[400,-17.5],[450,-19.5],[470,-22],[490,-25.3],[505,-21],[530,-20],[550,-19.5],[600,-18.5],[625,-16],[640,-12],[650,-10.5],[657,-15],[665,-17.5],[680,-14.5],[690,-13.6],[697,-17.5],[715,-18],[730,-15.3],[740,-17],[760,-19],[800,-19.5],[850,-20],[865,-19],[880,-18],[893,-22],[905,-26.1],[915,-22],[930,-21],[960,-20],[985,-17],[1000,-14.9],[1010,-17],
  [1025,-19],[1044,-18.5],[1060,-20.5],[1075,-19],[1090,-21.5],[1099,-23.5],[1108,-19.5],[1115,-21],[1122,-23.5],[1135,-19.2],[1150,-20.8],[1165,-19.5],[1185,-20.5],[1200,-19.5],[1217,-18.8],[1232,-17.4],[1248,-18.5],[1256,-19.2],[1276,-18.2],[1284,-20.2],[1295,-24.5],[1310,-19.2],[1330,-19],[1350,-20.5],[1365,-18.5],[1381,-17.9],[1397,-18.3],[1410,-21],[1417,-27],[1432,-18.9],[1452,-21.2],[1476,-19.9],[1499,-22.2],[1515,-24],[1534,-20.5],[1546,-25.4],[1562,-19.8],[1586,-20.3],[1600,-24]];
const amp125_L5 = [[0,-8],[4,-13],[10,-13.2],[50,-13.4],[100,-13.9],[150,-15],[175,-16.8],[190,-18.5],[205,-17],[235,-12],[255,-7],[265,-4.8],[272,-10],[280,-12],[300,-13.2],[350,-15.3],[400,-17.5],[440,-19.5],[450,-20],[462,-21.4],[475,-20],[500,-18],[518,-15.6],[527,-19],[535,-23.1],[548,-19],[570,-18],[620,-17],[638,-13],[645,-9.3],[652,-15],[660,-20],[675,-16],[695,-13],[708,-10.1],[716,-14],[730,-15.5],[760,-16.5],[800,-18],[850,-19],[875,-20.1],[893,-21.5],[905,-23],[918,-21.5],[935,-19.5],[948,-16.9],[960,-19],[975,-19.5],[990,-16],[1000,-13.9],[1010,-16],
  [1030,-17],[1050,-17.8],[1072,-18.3],[1083,-18.8],[1142,-19.5],[1201,-19.9],[1240,-19.7],[1256,-20.3],[1279,-20],[1300,-19.6],[1315,-19.1],[1323,-22.9],[1335,-22.9],[1358,-22.9],[1366,-21.3],[1397,-21],[1429,-20.2],[1448,-21.6],[1476,-21.3],[1515,-21.3],[1530,-21.8],[1538,-21.3],[1550,-23],[1558,-27],[1564,-30.2],[1570,-23.5],[1586,-22.6],[1600,-22.9]];
const amp125_L6 = [[0,-4.75],[3,-10],[8,-14.5],[14,-14.2],[50,-14.6],[100,-14.9],[150,-15.6],[180,-16.5],[210,-17.5],[230,-18.9],[245,-17],[265,-12],[283,-7],[290,-3.8],[296,-10],[305,-13],[350,-15.2],[400,-16.5],[450,-17.2],[500,-17.5],[550,-17.7],[565,-17],[575,-16],[582,-17],[590,-17.5],[620,-16.5],[645,-14.5],[660,-11],[670,-6.35],[677,-13],[690,-16],[705,-18],[725,-20.5],[740,-22.4],[752,-18],[770,-15],[785,-12],[790,-11],[798,-15],[805,-19],[830,-19.3],[850,-21],[865,-24.9],[880,-25.5],[895,-23],[910,-27],[918,-30.7],[928,-25],[945,-24],[960,-22.5],[985,-21.5],[1010,-20.5],[1040,-19],[1065,-17],[1080,-14],[1090,-9.8],
  [1100,-13],[1111,-16.8],[1134,-18.8],[1150,-19],[1162,-19.9],[1201,-20.7],[1240,-21],[1252,-21.5],[1258,-23.6],[1264,-21.5],[1319,-22],[1358,-22.2],[1385,-23.3],[1421,-23.5],[1435,-21.5],[1444,-19.7],[1456,-22.9],[1468,-24.3],[1487,-25.6],[1500,-26.5],[1511,-29],[1525,-27],[1535,-23],[1546,-19.1],[1554,-20.3],[1562,-23.7],[1578,-21.8],[1593,-22.6],[1600,-22.4]];

// 16.4 N.m
const amp164_L1 = [[0,-8],[4,-12.5],[10,-12.7],[50,-12.8],[100,-13.1],[150,-14.4],[180,-16.3],[205,-17.8],[220,-16],[255,-12],[280,-7],[290,-2.5],[296,-9],[305,-11.5],[350,-13.7],[400,-15.5],[450,-17],[475,-19],[500,-20.5],[520,-19],[545,-17],[563,-13.2],[572,-20.5],[590,-17.5],[640,-16],[660,-12],[672,-6.6],[680,-13],[695,-18],[705,-20.7],[720,-16],[750,-14],[775,-11],[790,-7.8],[797,-12],[810,-14],[850,-15.5],[900,-17],[930,-18],[960,-20],[980,-22.2],[1000,-20],[1030,-16.5],[1060,-14],[1080,-11.5],[1090,-9.96],
  [1103,-15],[1122,-16.6],[1130,-17.2],[1146,-17.6],[1162,-17.9],[1201,-18.5],[1240,-19],[1248,-18.5],[1279,-18.7],[1319,-19],[1358,-19],[1385,-20.1],[1401,-20.4],[1413,-18.7],[1429,-19],[1444,-20.1],[1450,-25.4],[1456,-21.8],[1466,-26.9],[1472,-22.2],[1480,-21.6],[1495,-19.8],[1515,-17.9],[1523,-16.8],[1538,-16.1],[1550,-17.2],[1562,-17.9],[1578,-18.5],[1593,-19.3],[1600,-19.4]];
const amp164_L2 = [[0,-9],[4,-12.6],[10,-12.9],[50,-13],[100,-13.3],[150,-14.6],[180,-16.4],[200,-17.7],[215,-16],[250,-11],[270,-6],[275,-2.9],[281,-8.5],[292,-11.5],[350,-14],[400,-15.8],[440,-17.3],[455,-19],[465,-23],[475,-19],[500,-17.5],[530,-16],[545,-14.4],[553,-18],[562,-20],[575,-17],[620,-15.8],[650,-12],[665,-6.6],[672,-12],[682,-17],[690,-19.8],[705,-15],[730,-11],[740,-8.3],[748,-12.5],[770,-14],[800,-15],[850,-16.5],[900,-18],[940,-19],[970,-20.5],[990,-21.5],[1000,-22.5],[1015,-20],[1040,-17],
  [1064,-14.8],[1083,-15.6],[1103,-16.6],[1142,-17.7],[1181,-18.2],[1201,-18.4],[1240,-18.7],[1279,-19],[1358,-19],[1378,-20.2],[1397,-20.5],[1417,-21.2],[1429,-22.2],[1434,-26],[1440,-22.2],[1448,-19],[1460,-18.7],[1476,-19.2],[1495,-19.7],[1515,-20],[1535,-20.3],[1554,-20.7],[1574,-21.4],[1593,-21.2],[1600,-21.4]];
const amp164_L3 = [[0,-6],[4,-12.6],[10,-12.9],[50,-13.1],[100,-13.4],[150,-14.6],[175,-16],[188,-17.5],[200,-16.5],[235,-10],[250,-5.5],[255,-3.7],[261,-9],[272,-12],[300,-13],[350,-14.5],[400,-16],[440,-17.5],[452,-19],[458,-22],[468,-18.5],[485,-16.5],[500,-19],[520,-18],[560,-17],[620,-15.8],[645,-11],[658,-6.4],[664,-12],[675,-15],[690,-9.6],[697,-13],[710,-16],[730,-15.3],[760,-15.5],[800,-16],[850,-17],[900,-18.5],[930,-19.5],[965,-18],[985,-16],[1010,-14],[1050,-11],[1060,-9.35],
  [1067,-14],[1083,-17.2],[1103,-17.9],[1119,-18.7],[1134,-19.2],[1146,-20.9],[1162,-18.2],[1181,-18.5],[1193,-17.9],[1201,-20.3],[1213,-18.5],[1240,-17.4],[1252,-19.8],[1262,-21.9],[1276,-19.2],[1295,-17.6],[1311,-17.2],[1323,-23],[1330,-18.2],[1342,-17.4],[1358,-17.9],[1378,-19],[1397,-17.1],[1409,-18.5],[1425,-20.6],[1452,-18.7],[1464,-18.5],[1476,-17.7],[1485,-23],[1499,-17.9],[1515,-19.5],[1531,-19.8],[1554,-19.3],[1578,-20],[1593,-19.8],[1600,-20.3]];
const amp164_L4 = [[0,-9],[4,-12.6],[10,-13],[50,-13.1],[100,-13.4],[150,-14.7],[178,-16.5],[192,-17.4],[205,-16],[235,-10],[246,-6],[250,-4.4],[256,-9.5],[268,-12],[300,-13.2],[350,-14.8],[400,-16.3],[440,-17.8],[460,-20],[475,-22],[490,-17],[500,-14.3],[510,-17],[525,-19],[550,-17.5],[600,-16.3],[635,-13],[650,-6.9],[656,-11.5],[665,-14],[680,-10],[688,-13],[700,-14],[730,-15],[760,-16],[800,-17],[830,-18],[850,-18.5],[875,-16.5],[895,-14.5],[905,-16.5],[920,-20.8],[935,-18],[950,-15],[960,-14],[975,-13.4],[990,-14.5],[1010,-13],[1025,-10.9],[1035,-14],
  [1050,-16],[1068,-16.2],[1091,-16.9],[1115,-17.2],[1138,-23.2],[1146,-16.9],[1158,-19.5],[1168,-24.3],[1177,-18.2],[1193,-17.6],[1201,-17.3],[1213,-15],[1224,-16.6],[1234,-15.6],[1240,-17.2],[1248,-18.2],[1256,-19.8],[1268,-21.9],[1276,-24.3],[1287,-21.4],[1299,-23],[1311,-19.8],[1319,-18.5],[1327,-17.3],[1342,-19.8],[1358,-18.5],[1370,-17.9],[1389,-17.1],[1397,-21.9],[1413,-17.8],[1425,-19.5],[1436,-18.2],[1456,-16.1],[1468,-16.9],[1476,-19.5],[1491,-21.1],[1503,-18.7],[1515,-20.9],[1534,-20.2],[1554,-20.3],[1574,-20.2],[1593,-20.9],[1600,-21.5]];
const amp164_L5 = [[0,-3.4],[4,-11],[10,-12.5],[50,-12.6],[100,-12.9],[150,-14.2],[175,-16],[190,-17.6],[205,-16],[225,-11],[240,-6],[245,-5],[252,-10],[265,-12],[300,-12.8],[350,-14.5],[400,-16],[440,-17.5],[460,-17],[475,-14],[485,-12.5],[495,-16],[505,-20],[520,-18],[560,-16.5],[600,-16],[625,-14],[645,-7.6],[652,-12],[662,-16],[680,-15.5],[693,-12.8],[705,-16.5],[730,-16],[760,-17],[800,-17.5],[830,-19],[855,-21],[866,-22.2],[880,-19],[900,-17],[914,-15.5],[930,-18],[960,-17.5],[990,-14],[1015,-11],[1025,-9.55],[1032,-14],
  [1044,-15.2],[1083,-16.9],[1111,-17.7],[1122,-17.2],[1128,-19.9],[1146,-17.5],[1162,-19.4],[1177,-19.6],[1201,-16],[1209,-22.7],[1217,-16.6],[1228,-19],[1248,-20.6],[1264,-16.2],[1276,-18.2],[1287,-18.2],[1299,-21.3],[1311,-19.5],[1327,-20.9],[1334,-18.7],[1350,-20.9],[1366,-19.5],[1376,-24.8],[1385,-18.5],[1397,-19],[1413,-17.9],[1436,-15.8],[1448,-16.9],[1456,-20.3],[1472,-19.3],[1491,-20.1],[1499,-21.7],[1505,-24.3],[1515,-18.8],[1538,-19.6],[1554,-19.3],[1574,-19.4],[1600,-20.6]];
const amp164_L6 = [[0,-4.8],[6,-10],[12,-14.7],[18,-13],[50,-13.1],[100,-13.5],[150,-14.9],[175,-16.5],[190,-18.1],[205,-16.5],[235,-12],[255,-8],[265,-4.5],[271,-10],[285,-13.5],[300,-15],[350,-16.5],[420,-17.5],[460,-18.5],[480,-19.5],[500,-18],[518,-16.4],[528,-19],[540,-24.5],[552,-19],[575,-18.5],[600,-18.2],[640,-17.5],[655,-13],[665,-7.4],[672,-13],[685,-18],[700,-20.2],[715,-15],[728,-11.5],[735,-10.4],[745,-14.5],[770,-17],[800,-18.5],[850,-19.5],[900,-21],[930,-23],[945,-26.6],[958,-22],[975,-19.5],[990,-17.75],[1000,-21],[1015,-19],[1030,-15.5],[1040,-13.9],[1050,-16.5],
  [1060,-17.5],[1083,-18.5],[1115,-19.1],[1162,-19.1],[1181,-19.1],[1189,-20],[1201,-19.5],[1240,-19.6],[1268,-20.5],[1287,-19.3],[1303,-18.5],[1319,-19.6],[1330,-25.6],[1342,-21.7],[1366,-19],[1389,-17.5],[1405,-18.5],[1421,-19],[1436,-19.3],[1452,-20.1],[1476,-20.4],[1495,-20.7],[1511,-21.3],[1531,-20.6],[1550,-22],[1570,-22.1],[1589,-22.1],[1600,-22.6]];

// highlighted peaks: [centre dimension, centre amplitude, half-width, half-height] in data units
const rings5 = [[248.8, -4.04, 63.5, 2.16], [653, -8.48, 58, 2.36], [1049, -10.77, 102, 3.34]];
const rings8 = [[274.5, -4.48, 65, 3.56], [662.5, -7.49, 49, 2.0], [1057.6, -10.6, 82, 2.4]];
const rings125 = [[274, -5.96, 56, 2.75], [671, -8.9, 42, 3.05], [1071.6, -12.92, 73.6, 3.7]];
const rings164 = [[267.4, -4.34, 60.3, 2.52], [663.7, -7.26, 41.7, 1.59], [1056.3, -11.18, 84.8, 2.8]];

// ---------- tables built from the arrays ----------
const reSets = [
  [re5_L1, re5_L2, re5_L3, re5_L4, re5_L5, re5_L6],
  [re8_L1, re8_L2, re8_L3, re8_L4, re8_L5, re8_L6],
  [re125_L1, re125_L2, re125_L3, re125_L4, re125_L5, re125_L6],
  [re164_L1, re164_L2, re164_L3, re164_L4, re164_L5, re164_L6]
];
const reGrids = [timeGrid, timeGrid, timeGrid, timeGrid, timeGrid, fineGrid];
const ampSets = [
  [amp5_L1, amp5_L2, amp5_L3, amp5_L4, amp5_L5, amp5_L6],
  [amp8_L1, amp8_L2, amp8_L3, amp8_L4, amp8_L5, amp8_L6],
  [amp125_L1, amp125_L2, amp125_L3, amp125_L4, amp125_L5, amp125_L6],
  [amp164_L1, amp164_L2, amp164_L3, amp164_L4, amp164_L5, amp164_L6]
];
const ringSets = [rings5, rings8, rings125, rings164];

// ---------- layout (in 1540 x 1568 units, scaled to the page) ----------
const serif = '"Liberation Serif", "Times New Roman", serif';
const axisColor = '#262626';
const darkRed = '#A2142F';
const tickLen = 6;
const leftX = [110.5, 660.3];
const rightX = [942.4, 1484.3];
const leftTop = [32.5, 392.5, 753, 1117];
const leftBottom = [333.5, 694, 1055, 1417.4];
const rightTop = [35.2, 396.4, 756, 1119.5];
const rightBottom = [335.7, 697, 1057.4, 1420.8];
const reLabelY = [193, 516, 874, 1239];
const ampLabelY = [207, 560, 940, 1300];
const boxRects = [[528, 49.4, 113, 44], [527, 412, 114, 42], [479, 773, 154, 41], [479, 1137, 154, 41]];
const specLabelPos = [[1466, 116], [1473, 433.6], [1473, 794], [1458, 1160]];

const svg = d3.select('#fig')
  .attr('width', 3862).attr('height', 3932)
  .attr('viewBox', '0 0 1540 1568')
  .attr('preserveAspectRatio', 'none');

svg.append('rect').attr('width', 1540).attr('height', 1568).attr('fill', '#fff');

// dashed frames round (a) and (b)
svg.append('rect').attr('x', 13).attr('y', 12).attr('width', 668).attr('height', 1488)
  .attr('fill', 'none').attr('stroke', '#111').attr('stroke-width', 1.1).attr('stroke-dasharray', '7,4');
svg.append('rect').attr('x', 840).attr('y', 12).attr('width', 686).attr('height', 1488)
  .attr('fill', 'none').attr('stroke', '#111').attr('stroke-width', 1.1).attr('stroke-dasharray', '7,4');

function frame(g, x, y, xTicks, yTicks, o) {
  const [b, t] = y.range();
  const [l, r] = x.range();
  const ax = g.append('g');
  const gb = ax.append('g').attr('transform', `translate(0,${b})`)
    .call(d3.axisBottom(x).tickValues(xTicks).tickFormat(d => String(d))
      .tickSizeInner(-tickLen).tickSizeOuter(0).tickPadding(o.xPad));
  ax.append('g').attr('transform', `translate(${l},0)`)
    .call(d3.axisLeft(y).tickValues(yTicks).tickFormat(d => String(d))
      .tickSizeInner(-tickLen).tickSizeOuter(0).tickPadding(o.yPad));
  ax.append('g').attr('transform', `translate(0,${t})`)
    .call(d3.axisTop(x).tickValues(xTicks).tickFormat(() => '')
      .tickSizeInner(-tickLen).tickSizeOuter(0));
  ax.append('g').attr('transform', `translate(${r},0)`)
    .call(d3.axisRight(y).tickValues(yTicks).tickFormat(() => '')
      .tickSizeInner(-tickLen).tickSizeOuter(0));
  gb.selectAll('text').attr('dx', o.xDx);
  ax.selectAll('.domain').remove();
  ax.selectAll('.tick line').attr('stroke', axisColor).attr('stroke-width', 1.3);
  ax.selectAll('.tick text').attr('font-family', serif).attr('font-size', 30.5).attr('fill', axisColor);
  ax.append('rect').attr('x', l).attr('y', t).attr('width', r - l).attr('height', b - t)
    .attr('fill', 'none').attr('stroke', axisColor).attr('stroke-width', 1.3);
}

function clipFor(id, x, y) {
  const [b, t] = y.range();
  const [l, r] = x.range();
  svg.append('clipPath').attr('id', id).append('rect')
    .attr('x', l).attr('y', t).attr('width', r - l).attr('height', b - t);
  return `url(#${id})`;
}

for (let p = 0; p < 4; p++) {
  // ----- (a) acceleration response -----
  const xl = d3.scaleLinear().domain(timeDomain).range(leftX);
  const yl = d3.scaleLinear().domain(reDomains[p]).range([leftBottom[p], leftTop[p]]);
  const gl = svg.append('g');
  const linesL = gl.append('g').attr('clip-path', clipFor('clipL' + p, xl, yl));
  const lineL = d3.line().x(d => xl(d[0])).y(d => yl(d[1]));
  reSets[p].forEach((vals, k) => {
    const grid = reGrids[k];
    if (k === 5) {
      // the top line oscillates too fast to resolve: shade the hull of its read peaks/troughs
      const hull = [];
      grid.forEach((t, i) => {
        if (t >= bandSpan[0] && t <= bandSpan[1]) {
          const trio = [vals[i - 1], vals[i], vals[i + 1]];
          hull.push([t, d3.min(trio), d3.max(trio)]);
        }
      });
      linesL.append('path')
        .datum(hull)
        .attr('d', d3.area().x(d => xl(d[0])).y0(d => yl(d[1])).y1(d => yl(d[2])))
        .attr('fill', seriesColors[k]);
    }
    linesL.append('path')
      .datum(d3.zip(grid, vals))
      .attr('d', lineL)
      .attr('fill', 'none')
      .attr('stroke', seriesColors[k])
      .attr('stroke-width', 1.3)
      .attr('stroke-linejoin', 'round');
  });
  frame(gl, xl, yl, timeTicks, reTicks[p], { xPad: 19.5, yPad: 2, xDx: 7 });

  gl.append('text').attr('transform', `translate(43,${reLabelY[p]}) rotate(-90)`)
    .attr('text-anchor', 'middle').attr('dominant-baseline', 'central')
    .attr('font-family', serif).attr('font-size', 32).attr('fill', '#111')
    .text('Re (N)');

  const br = boxRects[p];
  gl.append('rect').attr('x', br[0]).attr('y', br[1]).attr('width', br[2]).attr('height', br[3])
    .attr('fill', '#fff').attr('stroke', '#111').attr('stroke-width', 1.2);
  gl.append('text').attr('x', br[0] + br[2] / 2).attr('y', br[1] + br[3] / 2 + 11)
    .attr('text-anchor', 'middle')
    .attr('font-family', serif).attr('font-size', 31).attr('fill', '#000')
    .text(boxLabels[p]);

  // ----- (b) network input -----
  const xr = d3.scaleLinear().domain(dimDomain).range(rightX);
  const yr = d3.scaleLinear().domain(ampDomains[p]).range([rightBottom[p], rightTop[p]]);
  const gr = svg.append('g');
  const linesR = gr.append('g').attr('clip-path', clipFor('clipR' + p, xr, yr));
  const lineR = d3.line().x(d => xr(d[0])).y(d => yr(d[1]));
  ampSets[p].forEach((pts, k) => {
    linesR.append('path')
      .datum(pts)
      .attr('d', lineR)
      .attr('fill', 'none')
      .attr('stroke', seriesColors[k])
      .attr('stroke-width', 2.4)
      .attr('stroke-linejoin', 'round');
  });
  frame(gr, xr, yr, dimTicks, ampTicks[p], { xPad: 10, yPad: 8, xDx: 0 });

  gr.selectAll('ellipse.ring').data(ringSets[p]).enter().append('ellipse')
    .attr('class', 'ring')
    .attr('cx', d => xr(d[0]))
    .attr('cy', d => yr(d[1]))
    .attr('rx', d => xr(d[0] + d[2]) - xr(d[0]))
    .attr('ry', d => yr(d[1] - d[3]) - yr(d[1]))
    .attr('fill', 'none').attr('stroke', darkRed).attr('stroke-width', 2.2);

  gr.append('text').attr('transform', `translate(861,${ampLabelY[p]}) rotate(-90)`)
    .attr('text-anchor', 'middle').attr('dominant-baseline', 'central')
    .attr('font-family', serif).attr('font-size', 33).attr('fill', '#111')
    .text('Amplitude');

  gr.append('text').attr('x', specLabelPos[p][0]).attr('y', specLabelPos[p][1])
    .attr('text-anchor', 'end').attr('font-weight', 'bold')
    .attr('font-family', serif).attr('font-size', 32).attr('fill', darkRed)
    .text(specLabels[p]);

  // right border runs on to the next panel
  if (p < 3) {
    svg.append('line').attr('x1', rightX[1]).attr('x2', rightX[1])
      .attr('y1', rightBottom[p]).attr('y2', rightTop[p + 1])
      .attr('stroke', axisColor).attr('stroke-width', 1.3);
  }
}

// ----- legends -----
const legL = svg.append('g');
legL.append('rect').attr('x', 142.4).attr('y', 48.7).attr('width', 242.5).attr('height', 70.5)
  .attr('fill', '#fff').attr('stroke', axisColor).attr('stroke-width', 1.1);
const legLCols = [[145.5, 179, 188], [219, 253, 259.6], [291, 324.5, 333.5]];
const legLRows = [[67.2, 80], [100.8, 113.5]];
seriesNames.forEach((name, k) => {
  const c = legLCols[Math.floor(k / 2)];
  const r = legLRows[k % 2];
  legL.append('line').attr('x1', c[0]).attr('x2', c[1]).attr('y1', r[0]).attr('y2', r[0])
    .attr('stroke', seriesColors[k]).attr('stroke-width', 2);
  legL.append('text').attr('x', c[2]).attr('y', r[1])
    .attr('font-family', serif).attr('font-size', 31).attr('fill', '#000').text(name);
});

const legR = svg.append('g');
legR.append('rect').attr('x', 1064).attr('y', 39).attr('width', 409).attr('height', 46.5)
  .attr('fill', '#fff').attr('stroke', axisColor).attr('stroke-width', 1.1);
const legRLine = [1069.5, 1144.3, 1213.6, 1282.6, 1350.6, 1414];
const legRText = [1091.3, 1166.9, 1234, 1301.5, 1370, 1434.3];
seriesNames.forEach((name, k) => {
  legR.append('line').attr('x1', legRLine[k]).attr('x2', legRLine[k] + 20).attr('y1', 59.8).attr('y2', 59.8)
    .attr('stroke', seriesColors[k]).attr('stroke-width', 2.6);
  legR.append('text').attr('x', legRText[k]).attr('y', 72)
    .attr('font-family', serif).attr('font-size', 33).attr('fill', '#000').text(name);
});

// ----- shared x labels and captions -----
svg.append('text').attr('x', 377).attr('y', 1488).attr('text-anchor', 'middle')
  .attr('font-family', serif).attr('font-size', 32).attr('fill', '#111').text('Time (s)');
svg.append('text').attr('x', 1203).attr('y', 1488).attr('text-anchor', 'middle')
  .attr('font-family', serif).attr('font-size', 32).attr('fill', '#111').text('Dimension');
svg.append('text').attr('x', 347).attr('y', 1542).attr('text-anchor', 'middle')
  .attr('font-family', serif).attr('font-size', 32).attr('fill', '#111').text('(a) Acceleration response');
svg.append('text').attr('x', 1214).attr('y', 1550).attr('text-anchor', 'middle')
  .attr('font-family', serif).attr('font-size', 32).attr('fill', '#111').text('(b) Inputdata of Network');

// ----- arrow from (a) to (b) -----
svg.append('path')
  .attr('d', 'M680,728 L797,728 L786,704 L838,731 L786,758 L797,734 L680,734 Z')
  .attr('fill', '#000');
</script>
</body>
</html>
